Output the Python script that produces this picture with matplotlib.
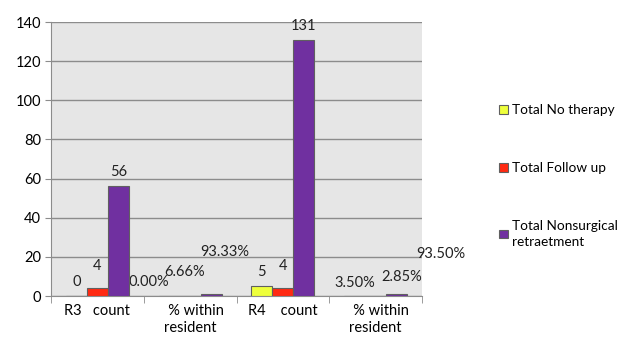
import numpy as np
import matplotlib.pyplot as plt

plt.rcParams['font.family'] = ['Lato', 'DejaVu Sans']

categories = ["R3   count", "   % within\nresident", "R4    count", "   % within\nresident"]
series_names = ["Total No therapy", "Total Follow up", "Total Nonsurgical\nretraetment"]
no_therapy = [0, 0.0, 5, 0.035]
follow_up = [4, 0.0666, 4, 0.0285]
nonsurgical = [56, 0.9333, 131, 0.935]
labels = [["0", "0.00%", "5", "3.50%"],
          ["4", "6.66%", "4", "2.85%"],
          ["56", "93.33%", "131", "93.50%"]]
colors = ["#EEFF3C", "#FF2A12", "#7030A0"]

# label offsets in pixels (Excel had moved the % labels by hand)
offsets = [[(0, 14), (-20, 14), (0, 14), (0, 13)],
           [(0, 22), (-6, 24), (0, 22), (26, 19)],
           [(0, 14), (14, 42), (0, 14), (44, 40)]]

fig = plt.figure(figsize=(6.18, 3.42), dpi=100)
ax = fig.add_axes([51 / 618, 46 / 342, 371 / 618, 274 / 342])
ax.set_facecolor("#E6E6E6")

x = np.arange(len(categories))
w = 0.226
series = [no_therapy, follow_up, nonsurgical]
for i, vals in enumerate(series):
    bars = ax.bar(x + (i - 1) * w, vals, w, color=colors[i], edgecolor="#606060",
                  linewidth=0.8, label=series_names[i], zorder=3)
    for j, b in enumerate(bars):
        ax.annotate(labels[i][j], (b.get_x() + b.get_width() / 2, b.get_height()),
                    xytext=offsets[i][j], textcoords="offset pixels",
                    ha="center", va="center", fontsize=10.5, color="#222222")

ax.set_xlim(-0.5, len(categories) - 0.5)
ax.set_ylim(0, 140)
ax.set_yticks(range(0, 141, 20))
ax.yaxis.grid(True, color="#8C8C8C", linewidth=1.0, zorder=0)
ax.set_axisbelow(True)
ax.set_xticks(x)
ax.set_xticklabels(categories, fontsize=10.5)
ax.set_xticks(np.arange(-0.5, len(categories)), minor=True)
ax.tick_params(axis="x", which="major", length=0, pad=6)
ax.tick_params(axis="x", which="minor", length=5, color="#8C8C8C")
ax.tick_params(axis="y", length=4, color="#8C8C8C", labelsize=10.5, pad=3)
for s in ["top", "right"]:
    ax.spines[s].set_visible(False)
for s in ["left", "bottom"]:
    ax.spines[s].set_color("#8C8C8C")

handles, lbls = ax.get_legend_handles_labels()
leg = fig.legend(handles, lbls, loc="upper left", bbox_to_anchor=(494 / 618, 1 - 99 / 342),
                 frameon=False, fontsize=9.8, handlelength=0.6, handleheight=0.6,
                 handletextpad=0.35, labelspacing=3.35, borderaxespad=0)
for t in leg.get_texts():
    t.set_linespacing(1.45)

fig.savefig("out.png", dpi=100)
